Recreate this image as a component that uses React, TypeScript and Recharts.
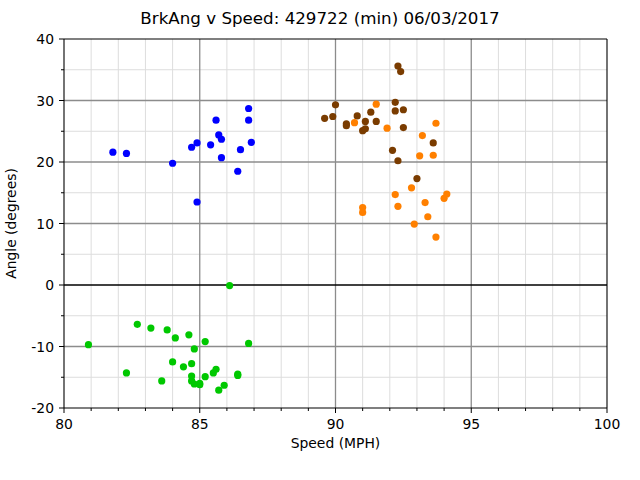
import React from "react";
import {
  ScatterChart,
  Scatter,
  XAxis,
  YAxis,
  ReferenceLine,
} from "recharts";

const FONT = "DejaVu Sans";

// speed (MPH) vs angle (degrees), one array per group
const blue = [
  { speed: 81.8, angle: 21.6 },
  { speed: 82.3, angle: 21.4 },
  { speed: 84.0, angle: 19.8 },
  { speed: 84.7, angle: 22.4 },
  { speed: 84.9, angle: 23.1 },
  { speed: 84.9, angle: 13.5 },
  { speed: 85.4, angle: 22.8 },
  { speed: 85.6, angle: 26.8 },
  { speed: 85.7, angle: 24.4 },
  { speed: 85.8, angle: 23.7 },
  { speed: 85.8, angle: 20.7 },
  { speed: 86.4, angle: 18.5 },
  { speed: 86.5, angle: 22.0 },
  { speed: 86.8, angle: 28.7 },
  { speed: 86.8, angle: 26.8 },
  { speed: 86.9, angle: 23.2 },
];

const brown = [
  { speed: 92.3, angle: 35.6 },
  { speed: 92.4, angle: 34.7 },
  { speed: 90.0, angle: 29.3 },
  { speed: 89.6, angle: 27.1 },
  { speed: 89.9, angle: 27.4 },
  { speed: 90.4, angle: 26.2 },
  { speed: 90.4, angle: 25.9 },
  { speed: 90.8, angle: 27.5 },
  { speed: 91.1, angle: 26.6 },
  { speed: 91.0, angle: 25.1 },
  { speed: 91.1, angle: 25.4 },
  { speed: 91.3, angle: 28.1 },
  { speed: 91.5, angle: 26.6 },
  { speed: 92.2, angle: 29.7 },
  { speed: 92.2, angle: 28.3 },
  { speed: 92.5, angle: 28.5 },
  { speed: 92.5, angle: 25.6 },
  { speed: 93.6, angle: 23.1 },
  { speed: 92.1, angle: 21.9 },
  { speed: 92.3, angle: 20.2 },
  { speed: 93.0, angle: 17.3 },
];

const orange = [
  { speed: 91.5, angle: 29.4 },
  { speed: 90.7, angle: 26.4 },
  { speed: 91.9, angle: 25.5 },
  { speed: 93.7, angle: 26.3 },
  { speed: 93.2, angle: 24.3 },
  { speed: 93.1, angle: 21.0 },
  { speed: 93.6, angle: 21.1 },
  { speed: 92.8, angle: 15.8 },
  { speed: 92.2, angle: 14.7 },
  { speed: 94.1, angle: 14.8 },
  { speed: 94.0, angle: 14.1 },
  { speed: 93.3, angle: 13.4 },
  { speed: 92.3, angle: 12.8 },
  { speed: 91.0, angle: 12.6 },
  { speed: 91.0, angle: 11.8 },
  { speed: 93.4, angle: 11.1 },
  { speed: 92.9, angle: 9.9 },
  { speed: 93.7, angle: 7.8 },
];

const green = [
  { speed: 86.1, angle: -0.1 },
  { speed: 80.9, angle: -9.7 },
  { speed: 82.7, angle: -6.4 },
  { speed: 83.2, angle: -7.0 },
  { speed: 83.8, angle: -7.3 },
  { speed: 84.1, angle: -8.6 },
  { speed: 84.6, angle: -8.1 },
  { speed: 85.2, angle: -9.2 },
  { speed: 86.8, angle: -9.5 },
  { speed: 84.8, angle: -10.4 },
  { speed: 82.3, angle: -14.3 },
  { speed: 84.0, angle: -12.5 },
  { speed: 84.4, angle: -13.3 },
  { speed: 84.7, angle: -12.8 },
  { speed: 83.6, angle: -15.6 },
  { speed: 84.7, angle: -14.8 },
  { speed: 84.7, angle: -15.6 },
  { speed: 84.8, angle: -16.1 },
  { speed: 85.0, angle: -16.0 },
  { speed: 85.0, angle: -16.2 },
  { speed: 85.2, angle: -14.9 },
  { speed: 85.5, angle: -14.3 },
  { speed: 85.6, angle: -13.7 },
  { speed: 86.4, angle: -14.5 },
  { speed: 86.4, angle: -14.7 },
  { speed: 85.9, angle: -16.3 },
  { speed: 85.7, angle: -17.1 },
];

const xMajor = [80, 85, 90, 95, 100];
const xMinor = [81, 82, 83, 84, 86, 87, 88, 89, 91, 92, 93, 94, 96, 97, 98, 99];
const yMajor = [-20, -10, 0, 10, 20, 30, 40];
const yMinor = [-15, -5, 5, 15, 25, 35];

const xTicks = [...xMajor, ...xMinor].sort((a, b) => a - b);
const yTicks = [...yMajor, ...yMinor].sort((a, b) => a - b);

const XTick = (props: any) => {
  const { x, y, payload } = props;
  const major = xMajor.includes(payload.value);
  return (
    <g>
      <line x1={x} x2={x} y1={y} y2={y + (major ? 5 : 3)} stroke="#000" strokeWidth={1} />
      {major && (
        <text x={x} y={y + 20.5} textAnchor="middle" fontSize={13.9} fontFamily={FONT} fill="#000">
          {payload.value}
        </text>
      )}
    </g>
  );
};

const YTick = (props: any) => {
  const { x, y, payload } = props;
  const major = yMajor.includes(payload.value);
  return (
    <g>
      <line x1={x} x2={x - (major ? 5 : 3)} y1={y} y2={y} stroke="#000" strokeWidth={1} />
      {major && (
        <text x={x - 10} y={y + 5} textAnchor="end" fontSize={13.9} fontFamily={FONT} fill="#000">
          {payload.value}
        </text>
      )}
    </g>
  );
};

const Dot = (color: string) => (props: any) =>
  <circle cx={props.cx} cy={props.cy} r={3.6} fill={color} />;

export default function App() {
  return (
    <div style={{ position: "absolute", left: 0, top: 0, width: 640, height: 480, background: "#fff" }}>
      <ScatterChart
        width={640}
        height={480}
        margin={{ top: 39, right: 33, bottom: 22, left: 0 }}
      >
        <XAxis
          type="number"
          dataKey="speed"
          domain={[80, 100]}
          ticks={xTicks}
          interval={0}
          allowDataOverflow
          height={50}
          tickSize={0}
          tickMargin={0}
          tick={<XTick />}
          axisLine={{ stroke: "#000", strokeWidth: 1.1 }}
        />
        <YAxis
          type="number"
          dataKey="angle"
          domain={[-20, 40]}
          ticks={yTicks}
          interval={0}
          allowDataOverflow
          width={64}
          tickSize={0}
          tickMargin={0}
          tick={<YTick />}
          axisLine={{ stroke: "#000", strokeWidth: 1.1 }}
        />
        {xMinor.map((v) => (
          <ReferenceLine key={"xm" + v} x={v} stroke="#dddddd" strokeWidth={1} />
        ))}
        {yMinor.map((v) => (
          <ReferenceLine key={"ym" + v} y={v} stroke="#dddddd" strokeWidth={1} />
        ))}
        {xMajor.slice(1, -1).map((v) => (
          <ReferenceLine key={"xM" + v} x={v} stroke="#8c8c8c" strokeWidth={1.3} />
        ))}
        {yMajor.slice(1, -1).filter((v) => v !== 0).map((v) => (
          <ReferenceLine key={"yM" + v} y={v} stroke="#8c8c8c" strokeWidth={1.3} />
        ))}
        <ReferenceLine y={0} stroke="#000" strokeWidth={1.3} />
        <ReferenceLine y={40} stroke="#000" strokeWidth={1.1} />
        <ReferenceLine x={100} stroke="#000" strokeWidth={1.1} />
        <Scatter data={blue} fill="#0000ff" shape={Dot("#0000ff")} isAnimationActive={false} />
        <Scatter data={brown} fill="#7a3c00" shape={Dot("#7a3c00")} isAnimationActive={false} />
        <Scatter data={orange} fill="#ff8000" shape={Dot("#ff8000")} isAnimationActive={false} />
        <Scatter data={green} fill="#00c800" shape={Dot("#00c800")} isAnimationActive={false} />
      </ScatterChart>
      <svg
        width={640}
        height={480}
        style={{ position: "absolute", left: 0, top: 0, pointerEvents: "none" }}
      >
        <text x={320} y={23.5} textAnchor="middle" fontSize={16.7} fontFamily={FONT} fill="#000">
          BrkAng v Speed: 429722 (min) 06/03/2017
        </text>
        <text x={335.5} y={448} textAnchor="middle" fontSize={13.9} fontFamily={FONT} fill="#000">
          Speed (MPH)
        </text>
        <text
          x={16}
          y={223.5}
          textAnchor="middle"
          fontSize={13.9}
          fontFamily={FONT}
          fill="#000"
          transform="rotate(-90 16 223.5)"
        >
          Angle (degrees)
        </text>
      </svg>
    </div>
  );
}
